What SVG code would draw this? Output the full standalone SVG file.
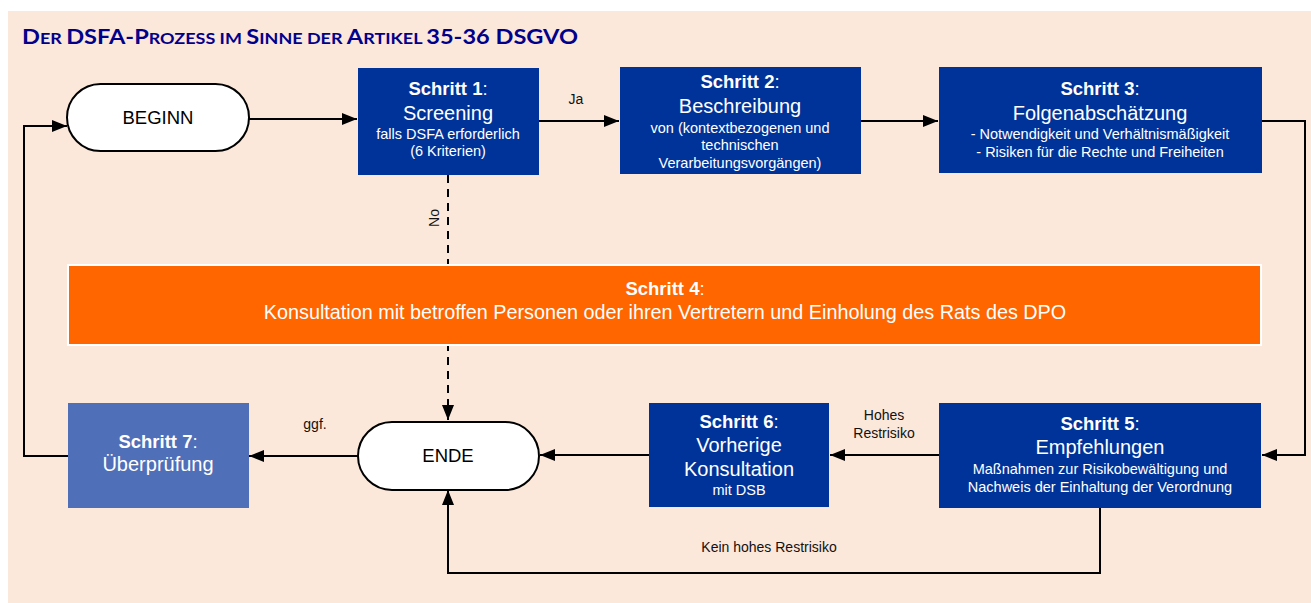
<svg xmlns="http://www.w3.org/2000/svg" width="1311" height="603" viewBox="0 0 1311 603">
<style>
text{font-family:"Liberation Sans",Arial,sans-serif}
.box{fill:#003399}
.w{fill:#fff;text-anchor:middle}
.h{font-size:18.5px;font-weight:bold}
.hc{font-weight:normal}
.b{font-size:20px}
.s{font-size:14.5px}
.lbl{font-size:14px;fill:#111;text-anchor:middle}
.pill{fill:#fff;stroke:#000;stroke-width:2}
.pt{font-size:18.5px;fill:#000;text-anchor:middle}
.c{fill:none;stroke:#000;stroke-width:2}
.title{font-family:Lato,"Liberation Sans",sans-serif;font-weight:bold;fill:#00008B}
.T{font-size:21px}
.t{font-size:16px}
</style>
<defs>
<marker id="ah" markerWidth="15" markerHeight="12" refX="15" refY="6" orient="auto" markerUnits="userSpaceOnUse"><path d="M0,0 L15,6 L0,12 z" fill="#000"/></marker>
</defs>
<rect x="8" y="11" width="1303" height="592" fill="#FCE8DA"/>
<text class="title" x="22" y="44" textLength="556" lengthAdjust="spacingAndGlyphs"><tspan class="T">D</tspan><tspan class="t">ER </tspan><tspan class="T">DSFA-P</tspan><tspan class="t">ROZESS IM </tspan><tspan class="T">S</tspan><tspan class="t">INNE DER </tspan><tspan class="T">A</tspan><tspan class="t">RTIKEL </tspan><tspan class="T">35-36 DSGVO</tspan></text>

<g id="connectors">
<path class="c" d="M249,119 H357" marker-end="url(#ah)"/>
<path class="c" d="M539,121 H619" marker-end="url(#ah)"/>
<path class="c" d="M861,121 H938" marker-end="url(#ah)"/>
<path class="c" d="M1262,121 H1305 V455 H1262" marker-end="url(#ah)"/>
<path class="c" d="M939,455 H830" marker-end="url(#ah)"/>
<path class="c" d="M649,455 H540" stroke-width="3" marker-end="url(#ah)"/>
<path class="c" d="M358,456 H249" marker-end="url(#ah)"/>
<path class="c" d="M68,456 H24 V126 H67" marker-end="url(#ah)"/>
<path class="c" d="M448,175 V420" stroke-dasharray="8 6" stroke-width="2.5" marker-end="url(#ah)"/>
<path class="c" d="M1100,508 V573 H448 V490" marker-end="url(#ah)"/>
<text class="lbl" x="576" y="104">Ja</text>
<text class="lbl" transform="translate(439,218) rotate(-90)">No</text>
<text class="lbl" x="315" y="429">ggf.</text>
<text class="lbl" x="884" y="420">Hohes</text>
<text class="lbl" x="884" y="438">Restrisiko</text>
<text class="lbl" x="769" y="552">Kein hohes Restrisiko</text>
</g>

<g id="beginn">
<rect class="pill" x="67" y="84" width="182" height="67" rx="33.5"/>
<text class="pt" x="158" y="124">BEGINN</text>
</g>

<g id="schritt1">
<rect class="box" x="358" y="68" width="181" height="107"/>
<text class="w h" x="448" y="95">Schritt 1<tspan class="hc">:</tspan></text>
<text class="w b" x="448" y="120">Screening</text>
<text class="w s" x="448" y="139">falls DSFA erforderlich</text>
<text class="w s" x="448" y="156">(6 Kriterien)</text>
</g>

<g id="schritt2">
<rect class="box" x="620" y="67" width="241" height="107"/>
<text class="w h" x="740" y="88">Schritt 2<tspan class="hc">:</tspan></text>
<text class="w b" x="740" y="113">Beschreibung</text>
<text class="w s" x="740" y="133">von (kontextbezogenen und</text>
<text class="w s" x="740" y="150">technischen</text>
<text class="w s" x="740" y="168">Verarbeitungsvorgängen)</text>
</g>

<g id="schritt3">
<rect class="box" x="939" y="67" width="323" height="106"/>
<text class="w h" x="1100" y="95">Schritt 3<tspan class="hc">:</tspan></text>
<text class="w b" x="1100" y="120">Folgenabschätzung</text>
<text class="w s" x="1100" y="139">- Notwendigkeit und Verhältnismäßigkeit</text>
<text class="w s" x="1100" y="157">- Risiken für die Rechte und Freiheiten</text>
</g>

<g id="schritt4">
<rect x="68" y="265" width="1193" height="80" fill="#FF6600" stroke="#fff" stroke-width="2"/>
<text class="w h" x="665" y="295">Schritt 4<tspan class="hc">:</tspan></text>
<text class="w" x="665" y="319" font-size="19.8">Konsultation mit betroffen Personen oder ihren Vertretern und Einholung des Rats des DPO</text>
</g>

<g id="schritt5">
<rect class="box" x="939" y="403" width="322" height="105"/>
<text class="w h" x="1100" y="430">Schritt 5<tspan class="hc">:</tspan></text>
<text class="w b" x="1100" y="454">Empfehlungen</text>
<text class="w s" x="1100" y="474">Maßnahmen zur Risikobewältigung und</text>
<text class="w s" x="1100" y="492">Nachweis der Einhaltung der Verordnung</text>
</g>

<g id="schritt6">
<rect class="box" x="649" y="403" width="180" height="104"/>
<text class="w h" x="739" y="428">Schritt 6<tspan class="hc">:</tspan></text>
<text class="w b" x="739" y="452">Vorherige</text>
<text class="w b" x="739" y="476">Konsultation</text>
<text class="w s" x="739" y="495">mit DSB</text>
</g>

<g id="ende">
<rect class="pill" x="358" y="422" width="181" height="68" rx="34"/>
<text class="pt" x="448" y="462">ENDE</text>
</g>

<g id="schritt7">
<rect x="68" y="403" width="181" height="105" fill="#4F6FB8"/>
<text class="w h" x="158" y="448">Schritt 7<tspan class="hc">:</tspan></text>
<text class="w b" x="158" y="471">Überprüfung</text>
</g>
</svg>
